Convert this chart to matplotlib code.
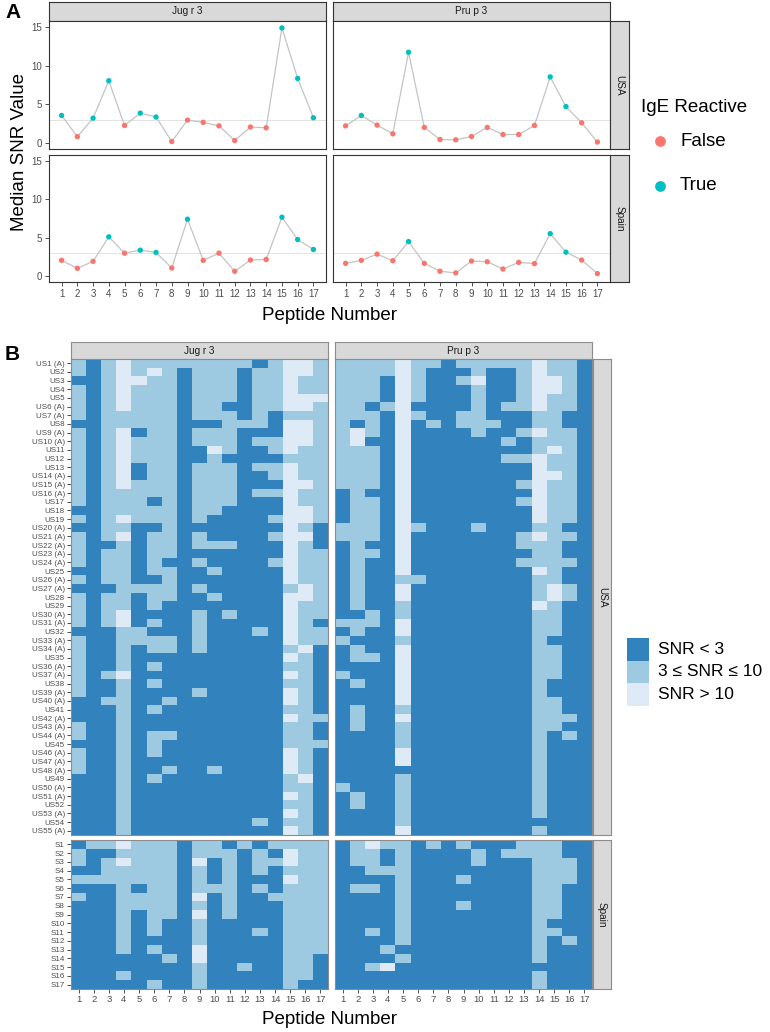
import numpy as np
import matplotlib
matplotlib.use("Agg")
import matplotlib.pyplot as plt
from matplotlib.colors import ListedColormap, BoundaryNorm

plt.rcParams['font.family'] = ['Liberation Sans', 'DejaVu Sans']

# ---------------- data ----------------
peptides = list(range(1, 18))
allergens = ["Jug r 3", "Pru p 3"]
countries = ["USA", "Spain"]

# panel A: median SNR per peptide
jug_usa = [3.55, 0.8, 3.2, 8.05, 2.25, 3.85, 3.35, 0.17, 2.95, 2.65, 2.2, 0.3, 2.05, 1.95, 14.9, 8.35, 3.25]
pru_usa = [2.2, 3.55, 2.3, 1.17, 11.75, 2.0, 0.43, 0.39, 0.82, 2.0, 1.08, 1.08, 2.25, 8.55, 4.7, 2.6, 0.1]
jug_spain = [2.03, 0.99, 1.9, 5.1, 2.97, 3.36, 3.06, 1.03, 7.41, 2.03, 2.97, 0.6, 2.07, 2.15, 7.67, 4.75, 3.45]
pru_spain = [1.64, 2.03, 2.84, 1.98, 4.48, 1.64, 0.6, 0.39, 1.94, 1.85, 0.9, 1.77, 1.6, 5.52, 3.1, 2.07, 0.3]
threshold = 3

# panel B: SNR class per patient (0: SNR<3, 1: 3-10, 2: >10)
usa_patients = ["US1 (A)", "US2", "US3", "US4", "US5", "US6 (A)", "US7 (A)", "US8", "US9 (A)",
                "US10 (A)", "US11", "US12", "US13", "US14 (A)", "US15 (A)", "US16 (A)", "US17",
                "US18", "US19", "US20 (A)", "US21 (A)", "US22 (A)", "US23 (A)", "US24 (A)", "US25",
                "US26 (A)", "US27 (A)", "US28", "US29", "US30 (A)", "US31 (A)", "US32", "US33 (A)",
                "US34 (A)", "US35", "US36 (A)", "US37 (A)", "US38", "US39 (A)", "US40 (A)", "US41",
                "US42 (A)", "US43 (A)", "US44 (A)", "US45", "US46 (A)", "US47 (A)", "US48 (A)",
                "US49", "US50 (A)", "US51 (A)", "US52", "US53 (A)", "US54", "US55 (A)"]
spain_patients = ["S%d" % i for i in range(1, 18)]

jug_usa_cls = [
    "10121111111101221", "10121210111011221", "00122110111011211", "10121110111011211",
    "10121110111011222", "10121110110011221", "10111110111010111", "00111110001110221",
    "10120110111000221", "10121110111011221", "10121110021001211", "10121110010000111",
    "10120110111011211", "10120110111001211", "10121110111000221", "10111110111011211",
    "10111010111000211", "00111110110000221", "10121110100001221", "00110010000000210",
    "10120110100001220", "10010110111000210", "10110110000000211", "10110100100001211",
    "00110110010000211", "10110010000000211", "00011110100000121", "10110110010000221",
    "10110100000000211", "10120000101000211", "10120100100000210", "00011000100010211",
    "10011110100000211", "10010110100000120", "10010000000000210", "10010100000000110",
    "10120000000000210", "10010100000000110", "10010000100000210", "00110010000000210",
    "00010100000000110", "00010000000000211", "10010000000000110", "10010110000000110",
    "00010100000000111", "10010100000000210", "10010000000000210", "10010010010000210",
    "00010100000000120", "00010000000000110", "00010000000000210", "00010000000000110",
    "00010000000000210", "00010000000010110", "00010000000000210"]
pru_usa_cls = [
    "11112110111112110", "11112100010012110", "11102100120012210", "11102100010012210",
    "11102100010012110", "11012000010112110", "11102100110001100", "10102010111001100",
    "12102000010012110", "12002000000101110", "11102000000001210", "11102000000112110",
    "11102000000002110", "11102000000002210", "11102000000012110", "01002000000002110",
    "01102000000012110", "01102000000002110", "01102000000002110", "11102100010001100",
    "11102000000012110", "01002000000011100", "01102000000001100", "01002000000011110",
    "01002000000002100", "01001100000001100", "01002000000001210", "01002000000001210",
    "01001000000002100", "00101000000001100", "11102000000001100", "01002000000001100",
    "10001000000001000", "01002000000001100", "01102000000001100", "00002000000001100",
    "10002000000001100", "01002000000001000", "00002000000001000", "00002000000001100",
    "01001000000001100", "01002000000001110", "01001000000001100", "00001000000001010",
    "00001000000001000", "00002000000001000", "00002000000001000", "00000000000001000",
    "00001000000001000", "10001000000001000", "01001000000001000", "01001000000001000",
    "00001000000001000", "00001000000000000", "00002000000001000"]
jug_spain_cls = [
    "01121110110101111", "10011110111010211", "10121110201011211", "00111110101010111",
    "11111110101000211", "00010110111010111", "10011110201001111", "00011110101000111",
    "00010110201000111", "00010100100000111", "00010100100010111", "00010000100000111",
    "00010100200000111", "00000010200000110", "00000000100100110", "00010000100000110",
    "00000100100000100"]
pru_spain_cls = [
    "01211010100011100", "01101000010111100", "01101000010001110", "00111000000001110",
    "00001000100001110", "01101000000001100", "00001000000001100", "00001000100001100",
    "00001000000001100", "00001000000001000", "00101000000001100", "00001000000001010",
    "00010000000001000", "00001000000001000", "00120000000000000", "00000000000001000",
    "00000000000001000"]

snr_labels = ["SNR < 3", "3 \u2264 SNR \u2264 10", "SNR > 10"]
blues = ["#3182BD", "#9ECAE1", "#DEEBF7"]
false_col, true_col = "#F8766D", "#00BFC4"

median_snr = {("Jug r 3", "USA"): jug_usa, ("Pru p 3", "USA"): pru_usa,
              ("Jug r 3", "Spain"): jug_spain, ("Pru p 3", "Spain"): pru_spain}
classes = {("Jug r 3", "USA"): jug_usa_cls, ("Pru p 3", "USA"): pru_usa_cls,
           ("Jug r 3", "Spain"): jug_spain_cls, ("Pru p 3", "Spain"): pru_spain_cls}
row_labels = {"USA": usa_patients, "Spain": spain_patients}

# ---------------- figure ----------------
W, H = 770, 1032
fig = plt.figure(figsize=(W / 100, H / 100), dpi=100)


def box(x0, y0, x1, y1):
    return [x0 / W, 1 - y1 / H, (x1 - x0) / W, (y1 - y0) / H]


def strip(x0, y0, x1, y1, label, rot=0, edge="#333333"):
    s = fig.add_axes(box(x0, y0, x1, y1))
    s.set_facecolor("#D9D9D9")
    s.set_xticks([]); s.set_yticks([])
    for sp in s.spines.values():
        sp.set_color(edge); sp.set_linewidth(0.8)
    s.text(0.5, 0.5, label, ha="center", va="center", rotation=rot,
           fontsize=7.2, color="#1A1A1A", transform=s.transAxes)


# ---- panel A ----
a_cols = [(49, 326), (333, 610)]
a_rows = [(21, 149), (155, 282)]
for ci, al in enumerate(allergens):
    strip(a_cols[ci][0], 2, a_cols[ci][1], 21, al)
    for ri, co in enumerate(countries):
        ax = fig.add_axes(box(a_cols[ci][0], a_rows[ri][0], a_cols[ci][1], a_rows[ri][1]))
        vals = median_snr[(al, co)]
        ax.axhline(threshold, color="#E3E3E3", lw=0.7, zorder=1)
        ax.plot(peptides, vals, color="#C4C4C4", lw=0.9, zorder=2)
        cols = [true_col if v > threshold else false_col for v in vals]
        ax.scatter(peptides, vals, c=cols, s=15, linewidths=0, zorder=3)
        ax.set_xlim(0.2, 17.8)
        ax.set_ylim(-0.8, 15.8)
        ax.set_xticks(peptides)
        ax.set_yticks([0, 5, 10, 15])
        ax.tick_params(length=3, width=0.6, color="#333333", labelcolor="#4D4D4D",
                       labelsize=7, pad=2)
        if ri == 0:
            ax.tick_params(axis="x", labelbottom=False, length=0)
        if ci == 1:
            ax.tick_params(axis="y", labelleft=False, length=0)
        for sp in ax.spines.values():
            sp.set_color("#333333"); sp.set_linewidth(0.8)
        if ci == 1:
            strip(610, a_rows[ri][0], 629, a_rows[ri][1], co, rot=-90)

# ---- panel B ----
cmap = ListedColormap(blues)
norm = BoundaryNorm([-0.5, 0.5, 1.5, 2.5], 3)
b_cols = [(71, 328), (335, 592)]
b_rows = [(359, 835), (840, 989)]
for ci, al in enumerate(allergens):
    strip(b_cols[ci][0], 342, b_cols[ci][1], 359, al, edge="#8C8C8C")
    for ri, co in enumerate(countries):
        mat = np.array([[int(c) for c in r] for r in classes[(al, co)]])
        n = mat.shape[0]
        ax = fig.add_axes(box(b_cols[ci][0], b_rows[ri][0], b_cols[ci][1], b_rows[ri][1]))
        ax.imshow(mat, cmap=cmap, norm=norm, aspect="auto", interpolation="nearest",
                  extent=(0.5, 17.5, n + 0.5, 0.5))
        ax.set_xlim(0.5, 17.5)
        ax.set_ylim(n + 0.5, 0.5)
        ax.set_xticks(peptides)
        ax.set_yticks(range(1, n + 1))
        ax.set_yticklabels(row_labels[co])
        ax.tick_params(length=3, width=0.6, color="#333333", labelcolor="#4D4D4D", pad=1.5)
        ax.tick_params(axis="x", labelsize=6.8)
        ax.tick_params(axis="y", labelsize=5.8)
        if ri == 0:
            ax.tick_params(axis="x", labelbottom=False, length=0)
        if ci == 1:
            ax.tick_params(axis="y", labelleft=False, length=0)
        for sp in ax.spines.values():
            sp.set_color("#8C8C8C"); sp.set_linewidth(0.8)
        if ci == 1:
            strip(593, b_rows[ri][0], 611, b_rows[ri][1], co, rot=-90, edge="#8C8C8C")

# ---- labels & legends (pixel overlay) ----
ov = fig.add_axes([0, 0, 1, 1], facecolor="none")
ov.set_xlim(0, W); ov.set_ylim(H, 0); ov.axis("off")

ov.text(5, 13, "A", fontsize=15, fontweight="bold", va="center", ha="left")
ov.text(5, 355, "B", fontsize=15, fontweight="bold", va="center", ha="left")
ov.text(20, 152, "Median SNR Value", fontsize=13.5, rotation=90, ha="center", va="center")
ov.text(330, 315, "Peptide Number", fontsize=13.5, ha="center", va="center")
ov.text(330, 1019, "Peptide Number", fontsize=13.5, ha="center", va="center")

ov.text(641, 107, "IgE Reactive", fontsize=13.5, ha="left", va="center")
for lab, col, yy in [("False", false_col, 141), ("True", true_col, 186)]:
    ov.scatter([660], [yy], s=60, color=col, linewidths=0)
    ov.text(680, yy, lab, fontsize=13.5, ha="left", va="center")

for k, (lab, col) in enumerate(zip(snr_labels, blues)):
    y0 = 638 + 22.5 * k
    ov.add_patch(plt.Rectangle((627, y0), 22, 22.5, color=col, lw=0))
    ov.text(658, y0 + 11.5, lab, fontsize=12.5, ha="left", va="center")

fig.savefig("out.png", dpi=100)
